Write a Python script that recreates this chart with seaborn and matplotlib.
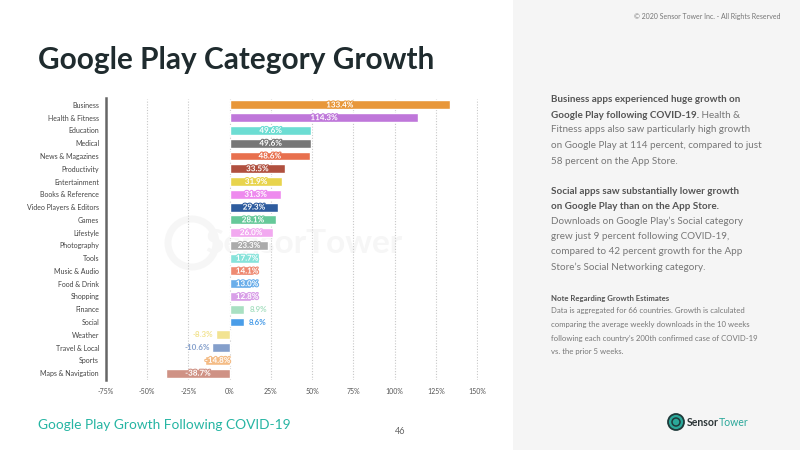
import matplotlib
matplotlib.use("Agg")
import matplotlib.pyplot as plt
import matplotlib.patheffects as pe
import seaborn as sns
import pandas as pd
from matplotlib.patches import Rectangle, Circle
from matplotlib.transforms import IdentityTransform

categories = ["Business", "Health & Fitness", "Education", "Medical", "News & Magazines",
              "Productivity", "Entertainment", "Books & Reference", "Video Players & Editors",
              "Games", "Lifestyle", "Photography", "Tools", "Music & Audio", "Food & Drink",
              "Shopping", "Finance", "Social", "Weather", "Travel & Local", "Sports",
              "Maps & Navigation"]
growth = [133.4, 114.3, 49.6, 49.6, 48.6, 33.5, 31.9, 31.3, 29.3, 28.1, 26.0, 23.3, 17.7,
          14.1, 13.0, 12.8, 8.9, 8.6, -8.3, -10.6, -14.8, -38.7]
colors = ["#E8973A", "#BF77DA", "#6CDDD3", "#777777", "#E8704E", "#B0503F", "#E8D44D",
          "#EE8AEE", "#2E5C9E", "#66C999", "#F2A9F0", "#ABABAB", "#87E3DA", "#EE8A72",
          "#6AAEEA", "#D9A0E8", "#A9E0C2", "#4A9DE8", "#F2E391", "#849FCB", "#F4BC86",
          "#CF9285"]
xticks = [-75, -50, -25, 0, 25, 50, 75, 100, 125, 150]

df = pd.DataFrame({"category": categories, "growth": growth})

sns.set_theme(style="white")
plt.rcParams["font.family"] = ["Lato", "DejaVu Sans"]

W, H = 800, 450
fig = plt.figure(figsize=(8, 4.5), dpi=100)
fig.patch.set_facecolor("white")

# right grey panel
fig.patches.append(Rectangle((513 / W, 0), 1 - 513 / W, 1, transform=fig.transFigure,
                             facecolor="#F5F5F5", edgecolor="none", zorder=-5))

# watermark (behind the axes)
wm_circle = Circle((192, H - 243), 24, fill=False, edgecolor="#F6F6F6",
                   linewidth=5, zorder=-3)
wm_circle.set_transform(IdentityTransform())
fig.artists.append(wm_circle)
fig.text(205 / W, 1 - 243 / H, "SensorTower", fontsize=24, color="#F6F6F6",
         fontweight="bold", va="center", ha="left", zorder=-3)

ax = fig.add_axes([106 / W, 1 - 379.5 / H, 372 / W, 281 / H])
ax.set_facecolor("none")
sns.barplot(data=df, x="growth", y="category", hue="category", palette=colors,
            legend=False, orient="h", width=0.7, ax=ax, zorder=2, saturation=1)

ax.set_xlim(-75, 150.6)
ax.set_xticks(xticks)
ax.set_xticklabels([f"{t}%" for t in xticks], fontsize=5, color="#555555")
ax.tick_params(axis="x", length=0, pad=6)
ax.tick_params(axis="y", length=0, pad=5, labelsize=5, labelcolor="#444444")
ax.set_xlabel("")
ax.set_ylabel("")
for s in ["top", "right", "bottom"]:
    ax.spines[s].set_visible(False)
ax.spines["left"].set_color("#666666")
ax.spines["left"].set_linewidth(1.8)
ax.grid(axis="x", linestyle=(0, (1, 1.5)), color="#C8C8C8", linewidth=0.8, zorder=0)
ax.grid(axis="y", visible=False)
ax.set_axisbelow(True)

# value labels
lfs = 5.8
for i, (v, c) in enumerate(zip(growth, colors)):
    lab = f"{v:.1f}%"
    stroke = [pe.withStroke(linewidth=1.6, foreground=c)]
    if v >= 12:
        ax.text(max(v / 2, 10.5), i, lab, ha="center", va="center", fontsize=lfs,
                color="white", fontweight="bold", zorder=3, path_effects=stroke)
    elif v <= -12:
        ax.text(v / 2, i, lab, ha="center", va="center", fontsize=lfs,
                color="white", fontweight="bold", zorder=3, path_effects=stroke)
    elif v > 0:
        ax.text(v + 3, i, lab, ha="left", va="center", fontsize=lfs,
                color=c, fontweight="bold", zorder=3)
    else:
        ax.text(v - 1.5, i, lab, ha="right", va="center", fontsize=lfs,
                color=c, fontweight="bold", zorder=3)

# title
fig.text(38 / W, 1 - 69 / H, "Google Play Category Growth", fontsize=21.4,
         fontweight="bold", color="#1F2B2E", ha="left", va="baseline")

# copyright
fig.text(780 / W, 1 - 17 / H, "\u00a9 2020 Sensor Tower Inc. - All Rights Reserved",
         fontsize=5, color="#777777", ha="right", va="center")

# right panel text
fig.canvas.draw()
renderer = fig.canvas.get_renderer()
x0 = 551
bold_c = "#555555"
reg_c = "#777777"
fs = 7.1


def line(y, parts, size=fs):
    x = x0
    for txt, bold in parts:
        t = fig.text(x / W, 1 - y / H, txt, fontsize=size,
                     fontweight="bold" if bold else "normal",
                     color=bold_c if bold else reg_c, ha="left", va="center")
        bb = t.get_window_extent(renderer=renderer)
        x += bb.width


line(100, [("Business apps experienced huge growth on", True)])
line(115, [("Google Play following COVID-19.", True), (" Health &", False)])
line(130, [("Fitness apps also saw particularly high growth", False)])
line(145.5, [("on Google Play at 114 percent, compared to just", False)])
line(161, [("58 percent on the App Store.", False)])
line(191, [("Social apps saw substantially lower growth", True)])
line(206, [("on Google Play than on the App Store.", True)])
line(221.5, [("Downloads on Google Play\u2019s Social category", False)])
line(237, [("grew just 9 percent following COVID-19,", False)])
line(252, [("compared to 42 percent growth for the App", False)])
line(267, [("Store\u2019s Social Networking category.", False)])

fs2 = 5.6
line(299, [("Note Regarding Growth Estimates", True)], fs2)
line(310.5, [("Data is aggregated for 66 countries. Growth is calculated", False)], fs2)
line(324, [("comparing the average weekly downloads in the 10 weeks", False)], fs2)
line(338, [("following each country\u2019s 200th confirmed case of COVID-19", False)], fs2)
line(351.5, [("vs. the prior 5 weeks.", False)], fs2)

# footer
fig.text(38 / W, 1 - 425 / H, "Google Play Growth Following COVID-19", fontsize=9.9,
         color="#26B5A3", ha="left", va="center")
fig.text(400 / W, 1 - 432 / H, "46", fontsize=6.5, color="#666666", ha="center", va="center")

# logo
logo = Circle((676, H - 422), 8, facecolor="#2BA89A", edgecolor="#1F3A3A", linewidth=1.3,
              zorder=3)
logo.set_transform(IdentityTransform())
fig.artists.append(logo)
inner = Circle((676, H - 422), 4, facecolor="none", edgecolor="#1F3A3A", linewidth=1.1, zorder=4)
inner.set_transform(IdentityTransform())
fig.artists.append(inner)
t1 = fig.text(687 / W, 1 - 422 / H, "Sensor", fontsize=7.6, fontweight="bold",
              color="#2B3436", ha="left", va="center")
bb = t1.get_window_extent(renderer=renderer)
fig.text((687 + bb.width) / W, 1 - 422 / H, "Tower", fontsize=7.6, color="#2BA89A",
         ha="left", va="center")

fig.savefig("out.png", dpi=100)
